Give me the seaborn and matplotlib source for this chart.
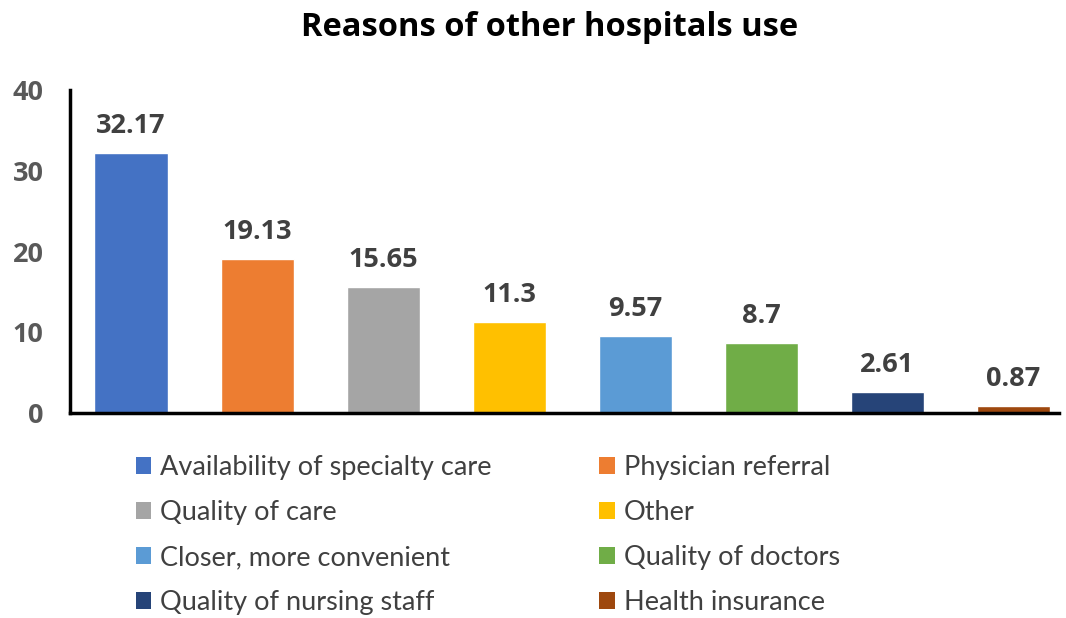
import matplotlib
matplotlib.use("Agg")
import matplotlib.pyplot as plt
import seaborn as sns
import pandas as pd
from matplotlib.patches import Patch

categories = [
    "Availability of specialty care",
    "Physician referral",
    "Quality of care",
    "Other",
    "Closer, more convenient",
    "Quality of doctors",
    "Quality of nursing staff",
    "Health insurance",
]
values = [32.17, 19.13, 15.65, 11.3, 9.57, 8.7, 2.61, 0.87]
value_labels = ["32.17", "19.13", "15.65", "11.3", "9.57", "8.7", "2.61", "0.87"]
colors = ["#4472C4", "#ED7D31", "#A5A5A5", "#FFC000",
          "#5B9BD5", "#70AD47", "#264478", "#9E480E"]
yticks = [0, 10, 20, 30, 40]

sns.set_theme(style="white")
plt.rcParams["font.family"] = ["Open Sans", "DejaVu Sans"]

df = pd.DataFrame({"reason": categories, "pct": values})

fig = plt.figure(figsize=(10.66, 6.18), dpi=100)
ax = fig.add_axes([0.0657, 0.332, 0.928, 0.522])

sns.barplot(data=df, x="reason", y="pct", hue="reason", palette=colors,
            order=categories, hue_order=categories, dodge=False,
            width=0.58, legend=False, ax=ax, saturation=1)

for patch, lab in zip(ax.patches, value_labels):
    ax.annotate(lab, (patch.get_x() + patch.get_width() / 2, patch.get_height()),
                xytext=(0, 10), textcoords="offset points", ha="center", va="bottom",
                fontsize=19.5, fontweight="bold", color="#404040")

ax.set_ylim(0, 40)
ax.set_xlim(-0.484, 7.365)
ax.set_yticks(yticks)
ax.set_yticklabels([str(t) for t in yticks], fontsize=19.5, fontweight="bold", color="#595959")
ax.tick_params(axis="y", length=0, pad=19)
ax.set_xticks([])
ax.set_xlabel("")
ax.set_ylabel("")

for side in ["top", "right"]:
    ax.spines[side].set_visible(False)
for side in ["left", "bottom"]:
    ax.spines[side].set_visible(True)
    ax.spines[side].set_color("black")
    ax.spines[side].set_linewidth(2.5)

fig.suptitle("Reasons of other hospitals use", x=0.516, y=0.982,
             fontsize=23.5, fontweight="bold", color="black")

# Legend laid out row-wise in two columns
order = [0, 2, 4, 6, 1, 3, 5, 7]
handles = [Patch(facecolor=colors[i], edgecolor="none") for i in order]
labels = [categories[i] for i in order]
fig.legend(handles, labels, ncol=2, loc="upper left",
           bbox_to_anchor=(0.117, 0.281), frameon=False,
           prop={"family": ["Lato", "DejaVu Sans"], "size": 19.5},
           labelcolor="#404040", handlelength=0.56, handleheight=0.56,
           handletextpad=0.33, columnspacing=4.0, labelspacing=0.74,
           borderaxespad=0)

fig.savefig("out.png", dpi=100)
